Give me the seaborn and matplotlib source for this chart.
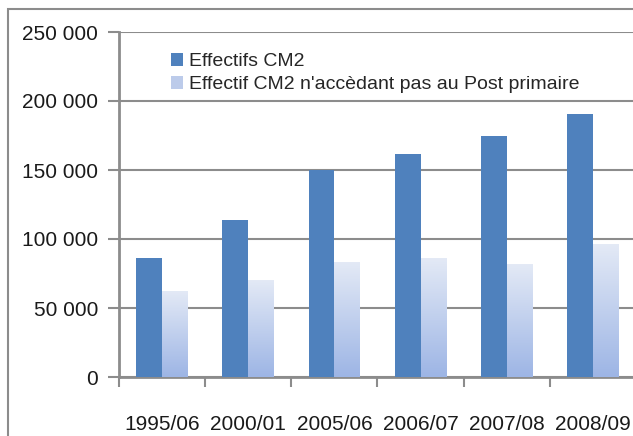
import numpy as np
import pandas as pd
import matplotlib
matplotlib.use("Agg")
import matplotlib.pyplot as plt
import seaborn as sns
from matplotlib.patches import Rectangle, Patch
from matplotlib.colors import LinearSegmentedColormap
from matplotlib.ticker import FuncFormatter

categories = ["1995/06", "2000/01", "2005/06", "2006/07", "2007/08", "2008/09"]
effectifs_cm2 = [86000, 114000, 150000, 161500, 174500, 190500]
non_accedant = [62500, 70500, 83500, 86500, 82000, 96500]
series_names = ["Effectifs CM2", "Effectif CM2 n'accèdant pas au Post primaire"]
yticks = [0, 50000, 100000, 150000, 200000, 250000]

df = pd.DataFrame({
    "cat": categories * 2,
    "val": effectifs_cm2 + non_accedant,
    "serie": [series_names[0]] * len(categories) + [series_names[1]] * len(categories),
})

sns.set_theme(style="white")
plt.rcParams["font.family"] = ["Liberation Sans", "DejaVu Sans"]

fig = plt.figure(figsize=(6.33, 4.36), dpi=100)
ax = fig.add_axes([119 / 633, 1 - 377 / 436, 517 / 633, 345 / 436])

dark = "#4f81bd"
light = "#c9d6ef"
sns.barplot(data=df, x="cat", y="val", hue="serie", order=categories,
            hue_order=series_names, palette=[dark, light], width=0.6,
            saturation=1, ax=ax, zorder=3, legend=False)

# gradient on the light bars
cmap = LinearSegmentedColormap.from_list("g", ["#9db5e5", "#e4eaf6"])
grad = np.linspace(0, 1, 256).reshape(-1, 1)
for p in list(ax.patches):
    fc = p.get_facecolor()
    p.set_edgecolor("none")
    if abs(fc[0] - 0xc9 / 255) < 0.02:
        x0, y0 = p.get_x(), p.get_y()
        w, h = p.get_width(), p.get_height()
        im = ax.imshow(grad, cmap=cmap, aspect="auto", origin="lower",
                       extent=[x0, x0 + w, y0, y0 + h], zorder=3.5)
        im.set_clip_path(p)

ax.set_xlim(-0.5, 5.5)
ax.set_ylim(0, 250000)
ax.set_yticks(yticks)
ax.yaxis.set_major_formatter(FuncFormatter(lambda v, _: f"{int(v):,}".replace(",", " ")))
ax.set_xlabel("")
ax.set_ylabel("")
ax.grid(axis="y", color="#8c8c8c", linewidth=1.5, zorder=0)
ax.set_axisbelow(True)

for s in ["top", "right"]:
    ax.spines[s].set_visible(False)
for s in ["left", "bottom"]:
    ax.spines[s].set_color("#8c8c8c")
    ax.spines[s].set_linewidth(2)

ax.tick_params(axis="y", which="major", length=8, width=1.5, color="#8c8c8c",
               labelsize=15, pad=7, left=True, labelcolor="#1a1a1a")
ax.set_xticks(np.arange(len(categories)))
ax.set_xticklabels(categories)
ax.set_xticks(np.arange(-0.5, len(categories) + 0.5, 1), minor=True)
ax.tick_params(axis="x", which="major", length=0, labelsize=15, pad=27, labelcolor="#1a1a1a")
ax.tick_params(axis="x", which="minor", length=7, width=1.5, color="#8c8c8c", bottom=True)

# legend
handles = [Patch(facecolor=dark, edgecolor="none"), Patch(facecolor="#bccbea", edgecolor="none")]
leg = ax.legend(handles, series_names, loc="upper left", bbox_to_anchor=(0.1, 0.94),
                frameon=False, fontsize=14, handlelength=0.65, handleheight=0.65,
                handletextpad=0.3, labelspacing=0.3, borderaxespad=0, borderpad=0)

# outer frame
fig.patches.append(Rectangle((8 / 633, -0.1), 1.2, 1 - 9 / 436 + 0.1, transform=fig.transFigure,
                             fill=False, edgecolor="#8c8c8c", linewidth=1.5))

fig.savefig("out.png", dpi=100)
